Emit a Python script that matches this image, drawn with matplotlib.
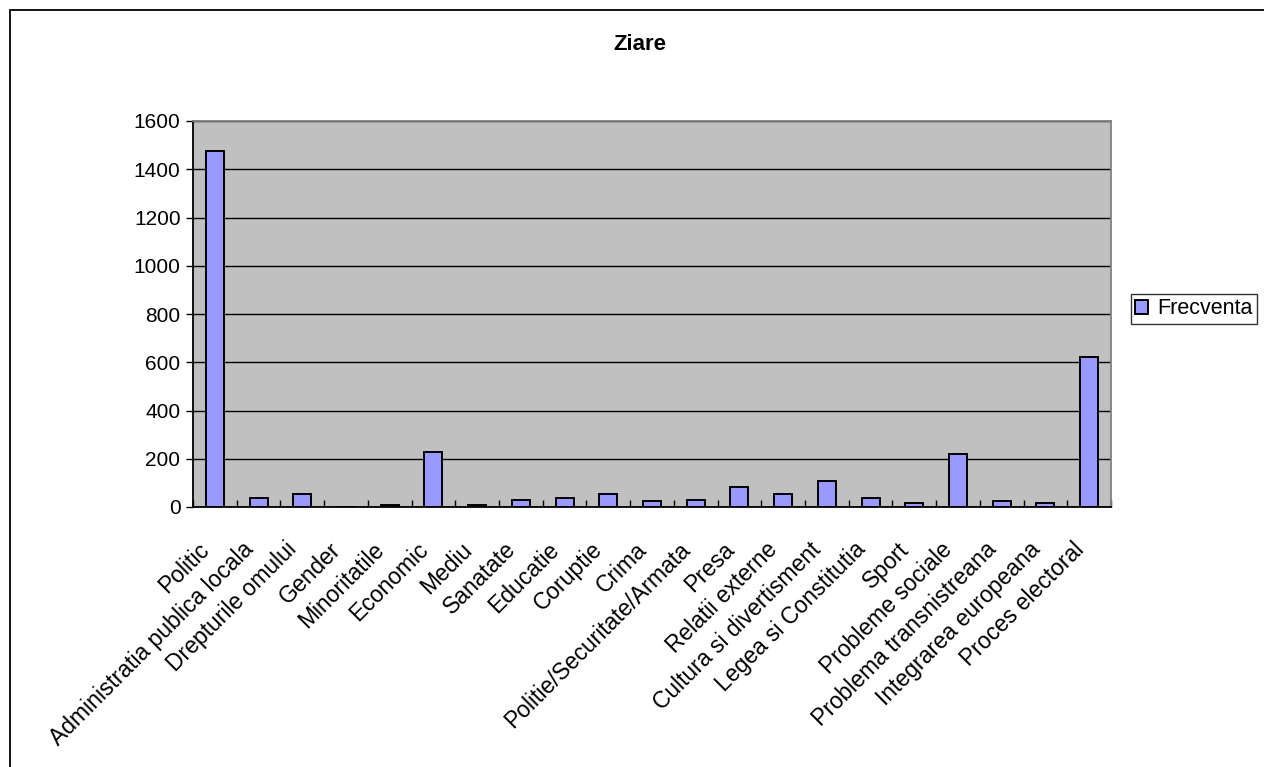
import matplotlib
matplotlib.use("Agg")
from matplotlib import pyplot as plt
from matplotlib.patches import Rectangle
import matplotlib.transforms as mtransforms
import numpy as np

categorii = ["Politic", "Administratia publica locala", "Drepturile omului", "Gender",
             "Minoritatile", "Economic", "Mediu", "Sanatate", "Educatie", "Coruptie",
             "Crima", "Politie/Securitate/Armata", "Presa", "Relatii externe",
             "Cultura si divertisment", "Legea si Constitutia", "Sport",
             "Probleme sociale", "Problema transnistreana", "Integrarea europeana",
             "Proces electoral"]
frecventa = [1475, 38, 54, 0, 8, 226, 7, 30, 38, 54, 23, 30, 83, 54, 106, 38, 15,
             218, 23, 15, 620]
y_ticks = [0, 200, 400, 600, 800, 1000, 1200, 1400, 1600]

plt.rcParams['font.family'] = ['Liberation Sans', 'DejaVu Sans']

fig = plt.figure(figsize=(12.64, 7.67), dpi=100)

# chenarul exterior al graficului
fig.patches.append(Rectangle((10 / 1264, -0.1), 1.2, 1 - 10 / 767 + 0.1,
                             transform=fig.transFigure, fill=False,
                             edgecolor="black", linewidth=1.3))

ax = fig.add_axes([193 / 1264, 1 - 507 / 767, 918 / 1264, 386 / 767])
ax.set_facecolor("#C0C0C0")

x = np.arange(len(categorii))
ax.bar(x, frecventa, width=0.41, color="#9999FF", edgecolor="black",
       linewidth=1.4, label="Frecventa", zorder=3)

ax.set_xlim(-0.5, len(categorii) - 0.5)
ax.set_ylim(0, 1600)
ax.set_yticks(y_ticks)
ax.tick_params(axis="y", labelsize=15, length=5, direction="out", width=1, pad=4)
ax.yaxis.grid(True, color="black", linewidth=1, zorder=1)

ax.set_xticks(x)
ax.set_xticklabels(categorii, rotation=45, ha="right", va="center",
                   rotation_mode="anchor", fontsize=16.5)
ax.tick_params(axis="x", which="major", length=0, pad=28)
ax.set_xticks(np.arange(len(categorii) + 1) - 0.5, minor=True)
ax.tick_params(axis="x", which="minor", length=5, direction="in", width=1)
# etichetele sunt putin deplasate spre stanga fata de centrul barei
shift = mtransforms.ScaledTranslation(-9 / 100, 0, fig.dpi_scale_trans)
for lbl in ax.get_xticklabels():
    lbl.set_transform(lbl.get_transform() + shift)

ax.spines["left"].set_color("black")
ax.spines["bottom"].set_color("black")
ax.spines["top"].set_color("#808080")
ax.spines["right"].set_color("#808080")
for s in ax.spines.values():
    s.set_linewidth(1.3)

fig.text(640 / 1264, 1 - 45 / 767, "Ziare", ha="center", va="center",
         fontsize=16, fontweight="bold")

leg = fig.legend(loc="upper left", bbox_to_anchor=(1131 / 1264, 1 - 294 / 767),
                 fontsize=15.5, frameon=True, fancybox=False, handlelength=0.6,
                 handleheight=0.6, handletextpad=0.4, borderpad=0.2,
                 borderaxespad=0)
leg.get_frame().set_edgecolor("black")
leg.get_frame().set_linewidth(1)

fig.savefig("out.png", dpi=100)
